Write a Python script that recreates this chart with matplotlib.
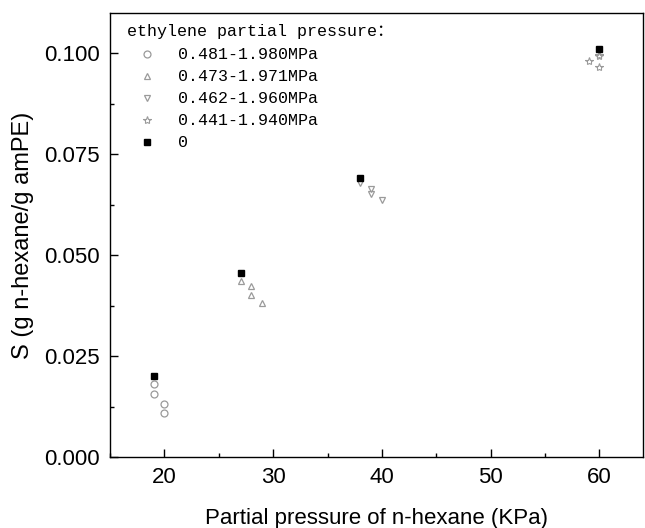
import numpy as np
import matplotlib
matplotlib.use('Agg')
import matplotlib.pyplot as plt
from matplotlib.ticker import MultipleLocator, FormatStrFormatter

#%% Data

labels = ['0.481-1.980MPa', '0.473-1.971MPa', '0.462-1.960MPa', '0.441-1.940MPa', '0']

x_circ = [19, 19, 20, 20]
y_circ = [0.0180, 0.0155, 0.0132, 0.0110]

x_up = [27, 28, 28, 29]
y_up = [0.0437, 0.0423, 0.0402, 0.0382]

x_down = [38, 39, 39, 40]
y_down = [0.0680, 0.0663, 0.0652, 0.0636]

x_star = [59, 60, 60, 60]
y_star = [0.0980, 0.0995, 0.0993, 0.0966]

x_zero = [19, 27, 38, 60]
y_zero = [0.0200, 0.0455, 0.0692, 0.1010]

#%% Figure

plt.rcParams['font.family'] = ['Liberation Sans', 'DejaVu Sans']
fig = plt.figure(figsize=(6.45, 5.28), dpi=100)
ax = fig.add_axes([110/645., 1-457/528., (643-110)/645., (457-13)/528.])

gray = '#9a9a9a'
ms = 5
ax.plot(x_circ, y_circ, 'o', ls='none', ms=ms, mfc='none', mec=gray, mew=0.9, label=labels[0])
ax.plot(x_up, y_up, '^', ls='none', ms=ms, mfc='none', mec=gray, mew=0.9, label=labels[1])
ax.plot(x_down, y_down, 'v', ls='none', ms=ms, mfc='none', mec=gray, mew=0.9, label=labels[2])
ax.plot(x_star, y_star, '*', ls='none', ms=ms+1, mfc='none', mec=gray, mew=0.8, label=labels[3])
ax.plot(x_zero, y_zero, 's', ls='none', ms=4.5, mfc='black', mec='black', label=labels[4])

ax.set_xlim(15, 64)
ax.set_ylim(0, 0.11)
ax.xaxis.set_major_locator(MultipleLocator(10))
ax.xaxis.set_minor_locator(MultipleLocator(5))
ax.yaxis.set_major_locator(MultipleLocator(0.025))
ax.yaxis.set_minor_locator(MultipleLocator(0.0125))
ax.yaxis.set_major_formatter(FormatStrFormatter('%.3f'))
ax.tick_params(which='major', direction='in', length=6, width=1, labelsize=16, pad=7.5)
ax.tick_params(which='minor', direction='in', length=3, width=1)
for s in ax.spines.values():
    s.set_linewidth(1.0)

ax.set_xlabel('Partial pressure of n-hexane (KPa)', fontsize=16, labelpad=14)
ax.set_ylabel('S (g n-hexane/g amPE)', fontsize=17, labelpad=7)

mono = ['Liberation Mono', 'Noto Sans CJK SC']
leg = ax.legend(loc='upper left', bbox_to_anchor=(0.019, 0.990), frameon=False,
                title='ethylene partial pressure：',
                prop={'family': mono, 'size': 12},
                handletextpad=0.66, handlelength=2.4, labelspacing=0.42,
                borderaxespad=0, borderpad=0.4)
leg.get_title().set_family(mono)
leg.get_title().set_fontsize(12)
leg._legend_box.align = 'left'
leg._legend_box.sep = 6

fig.savefig('out.png', dpi=100)
